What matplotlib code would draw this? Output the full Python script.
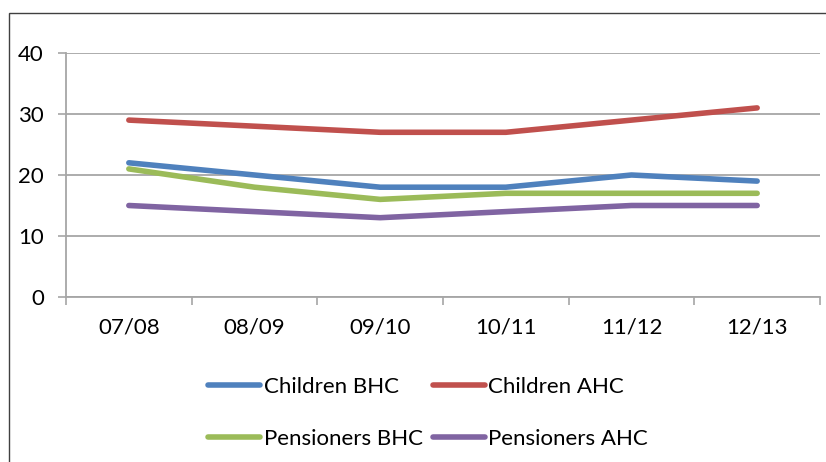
import matplotlib
matplotlib.use("Agg")
import matplotlib.pyplot as plt
from matplotlib.patches import Rectangle
import numpy as np

plt.rcParams['font.family'] = ['Lato', 'DejaVu Sans']

categories = ["07/08", "08/09", "09/10", "10/11", "11/12", "12/13"]
children_bhc = [22, 20, 18, 18, 20, 19]
children_ahc = [29, 28, 27, 27, 29, 31]
pensioners_bhc = [21, 18, 16, 17, 17, 17]
pensioners_ahc = [15, 14, 13, 14, 15, 15]
series_names = ["Children BHC", "Children AHC", "Pensioners BHC", "Pensioners AHC"]
colors = ["#4F81BD", "#C0504D", "#9BBB59", "#8064A2"]
yticks = [0, 10, 20, 30, 40]

W, H = 826, 462
fig = plt.figure(figsize=(W / 100, H / 100), dpi=100)
ax = fig.add_axes([66 / W, 1 - 297 / H, (820 - 66) / W, (297 - 53) / H])

x = np.arange(len(categories))
series = [children_bhc, children_ahc, pensioners_bhc, pensioners_ahc]
handles = []
for name, vals, c in zip(series_names, series, colors):
    (ln,) = ax.plot(x, vals, color=c, lw=4, solid_capstyle='round', label=name)
    handles.append(ln)

ax.set_xlim(-0.5, len(categories) - 0.5)
ax.set_ylim(0, 40)
ax.set_yticks(yticks)
ax.set_xticks(x)
ax.set_xticklabels(categories)
ax.set_xticks(np.arange(-0.5, len(categories)), minor=True)
ax.tick_params(axis='x', which='major', length=0, pad=15, labelsize=16)
ax.tick_params(axis='x', which='minor', length=6, width=1.2, color='#A6A6A6', direction='out')
ax.tick_params(axis='y', which='major', length=6, width=1.2, color='#A6A6A6', pad=10, labelsize=16)
ax.grid(axis='y', color='#A6A6A6', lw=1.3)
ax.set_axisbelow(True)
for s in ['top', 'right']:
    ax.spines[s].set_visible(False)
for s in ['left', 'bottom']:
    ax.spines[s].set_color('#A6A6A6')
    ax.spines[s].set_linewidth(1.3)

order = [0, 2, 1, 3]
fig.legend(handles=[handles[i] for i in order], labels=[series_names[i] for i in order],
           ncol=2, frameon=False,
           loc='upper left', bbox_to_anchor=(208 / W, 1 - 377 / H),
           fontsize=16, handlelength=2.35, handletextpad=0.15, columnspacing=0.45,
           labelspacing=1.45, borderaxespad=0, borderpad=0)

fig.patches.append(Rectangle((9 / W, -0.1), 1.2, 1 - 13 / H + 0.1, transform=fig.transFigure,
                             fill=False, edgecolor='#404040', lw=1.0))

fig.savefig("out.png", dpi=100)
